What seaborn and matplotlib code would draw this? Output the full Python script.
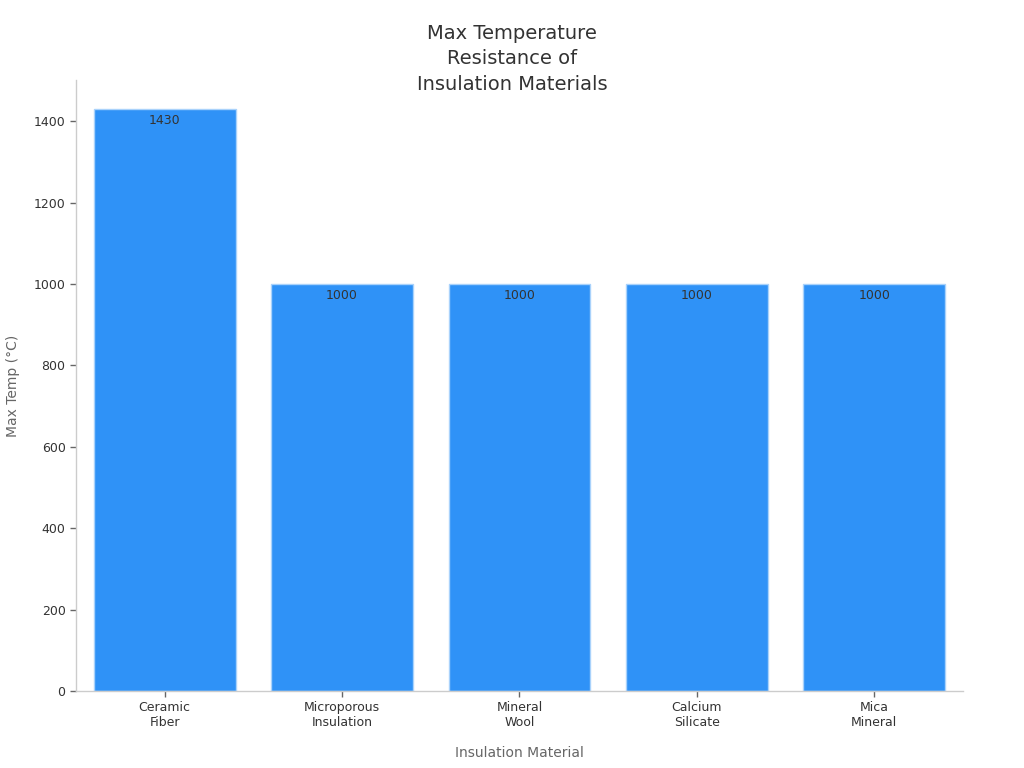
import matplotlib
matplotlib.use("Agg")
import matplotlib.pyplot as plt
import seaborn as sns
import pandas as pd

# Datos
materiales = ["Ceramic\nFiber", "Microporous\nInsulation", "Mineral\nWool",
              "Calcium\nSilicate", "Mica\nMineral"]
temperaturas = [1430, 1000, 1000, 1000, 1000]

df = pd.DataFrame({"material": materiales, "temp": temperaturas})

sns.set_theme(style="white")
plt.rcParams["font.family"] = ["DejaVu Sans"]

fig = plt.figure(figsize=(10.24, 7.68), dpi=100)
ax = fig.add_axes([0.0742, 0.1003, 0.8662, 0.7955])

sns.barplot(data=df, x="material", y="temp", color="#2f92f7", saturation=1,
            width=0.8, edgecolor="#a9d2fb", linewidth=1, ax=ax)

for i, v in enumerate(temperaturas):
    ax.text(i, v - 12, f"{v}", ha="center", va="top", fontsize=9, color="#333333")

ax.set_xlim(-0.5, 4.5)
ax.set_ylim(0, max(temperaturas) * 1.05)
ax.set_yticks(range(0, 1401, 200))

# Titulo centrado en la figura
fig.text(0.5, 1 - 59 / 768, "Max Temperature\nResistance of\nInsulation Materials",
         ha="center", va="center", fontsize=14, color="#333333", linespacing=1.42)
ax.set_xlabel("Insulation Material", fontsize=10, color="#666666", labelpad=12)
ax.set_ylabel("Max Temp (°C)", fontsize=10, color="#666666", labelpad=10)

ax.tick_params(axis="both", labelsize=9, labelcolor="#333333", colors="#666666",
               length=4, width=1, bottom=True, left=True)

for s in ["top", "right"]:
    ax.spines[s].set_visible(False)
for s in ["left", "bottom"]:
    ax.spines[s].set_color("#cccccc")
    ax.spines[s].set_linewidth(1)

fig.savefig("out.png", dpi=100)
